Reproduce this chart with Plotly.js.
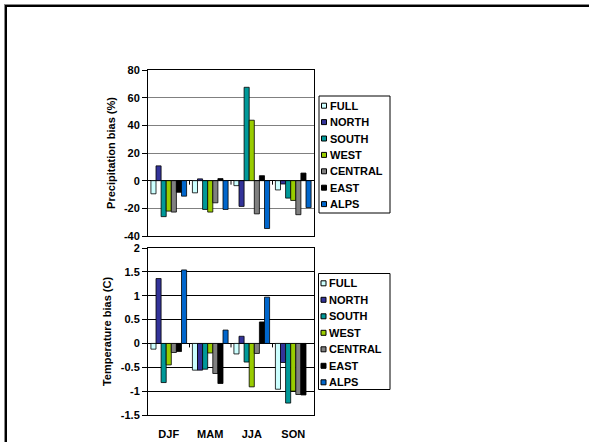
<!DOCTYPE html>
<html>
<head>
<meta charset="utf-8">
<script src="https://cdn.plot.ly/plotly-3.0.1.min.js"></script>
<style>
html,body{margin:0;padding:0;background:#fff;}
#chart{position:absolute;left:0;top:0;width:589px;height:442px;}
#frame{position:absolute;left:4px;top:4px;width:600px;height:460px;border-left:1px solid #888;border-top:1px solid #888;pointer-events:none;}
#frame2{position:absolute;left:5px;top:5px;width:600px;height:460px;border-left:2px solid #000;border-top:2px solid #000;pointer-events:none;}
</style>
</head>
<body>
<div id="chart"></div>
<div id="frame"></div>
<div id="frame2"></div>
<script>
const seasons = ['DJF', 'MAM', 'JJA', 'SON'];
const regions = ['FULL', 'NORTH', 'SOUTH', 'WEST', 'CENTRAL', 'EAST', 'ALPS'];
const regionColors = ['#CCFFFF', '#333399', '#009999', '#99CC00', '#808080', '#000000', '#0066CC'];

// Precipitation bias (%) per region, by season
const precipFULL    = [-9.5, -8.8, -3.6, -6.7];
const precipNORTH   = [10.7, 1.3, -18.6, -2.4];
const precipSOUTH   = [-26.0, -20.8, 67.5, -12.6];
const precipWEST    = [-22.0, -22.7, 43.7, -14.3];
const precipCENTRAL = [-22.7, -16.0, -24.0, -24.6];
const precipEAST    = [-8.4, 1.5, 3.6, 5.5];
const precipALPS    = [-11.2, -20.8, -34.6, -19.5];

// Temperature bias (C) per region, by season
const tempFULL    = [-0.12, -0.56, -0.22, -0.96];
const tempNORTH   = [1.36, -0.56, 0.15, -0.40];
const tempSOUTH   = [-0.82, -0.54, -0.39, -1.25];
const tempWEST    = [-0.45, -0.20, -0.91, -1.00];
const tempCENTRAL = [-0.19, -0.63, -0.21, -1.07];
const tempEAST    = [-0.17, -0.84, 0.45, -1.08];
const tempALPS    = [1.54, 0.28, 0.97, null];

const precipTickVals = [-40, -20, 0, 20, 40, 60, 80];
const precipTickText = ['-40', '-20', '0', '20', '40', '60', '80'];
const tempTickVals = [-1.5, -1, -0.5, 0, 0.5, 1, 1.5, 2];
const tempTickText = ['-1.5', '-1', '-0.5', '0', '0.5', '1', '1.5', '2'];

const precipSeries = [precipFULL, precipNORTH, precipSOUTH, precipWEST, precipCENTRAL, precipEAST, precipALPS];
const tempSeries = [tempFULL, tempNORTH, tempSOUTH, tempWEST, tempCENTRAL, tempEAST, tempALPS];

const W = 589, H = 442;
const FONT = 'Liberation Sans, Arial, sans-serif';

const traces = [];
regions.forEach((r, i) => {
  traces.push({
    type: 'bar', name: r, x: seasons, y: precipSeries[i],
    xaxis: 'x', yaxis: 'y', showlegend: false,
    marker: {color: regionColors[i], line: {color: '#000', width: 0.8}}
  });
  traces.push({
    type: 'bar', name: r, x: seasons, y: tempSeries[i],
    xaxis: 'x2', yaxis: 'y2', showlegend: false,
    marker: {color: regionColors[i], line: {color: '#000', width: 0.8}}
  });
});

const xDom = [148 / W, 314 / W];
const yDomTop = [(H - 236) / H, (H - 70) / H];
const yDomBot = [(H - 415) / H, (H - 248) / H];

const tickFont = {family: FONT, size: 11, color: '#000', weight: 'bold'};

function yAxis(dom, range, vals, text, title, grid, anchor) {
  return {
    domain: dom, range: range, tickvals: vals, ticktext: text, anchor: anchor,
    showgrid: true, gridcolor: grid, gridwidth: 1,
    zeroline: true, zerolinecolor: '#000', zerolinewidth: 1,
    showline: true, linecolor: '#000', linewidth: 1, mirror: true,
    ticks: 'outside', ticklen: 5, tickcolor: '#000', tickwidth: 1,
    tickfont: tickFont, fixedrange: true,
    title: {text: title, font: {family: FONT, size: 11, color: '#000', weight: 'bold'}, standoff: 6}
  };
}

const shapes = [];
const annotations = [];

// small tick marks at category boundaries on the zero line
[0.5, 1.5, 2.5].forEach(b => {
  ['y', 'y2'].forEach((ya, k) => {
    shapes.push({type: 'line', xref: k ? 'x2' : 'x', yref: ya, ysizemode: 'pixel', yanchor: 0,
      x0: b, x1: b, y0: 0, y1: -4, line: {color: '#000', width: 1}});
  });
});

// legends
function addLegend(left, top, right, bottom, firstY, step) {
  shapes.push({type: 'rect', xref: 'paper', yref: 'paper',
    x0: left / W, x1: right / W, y0: 1 - top / H, y1: 1 - bottom / H,
    line: {color: '#000', width: 1}, fillcolor: 'rgba(0,0,0,0)'});
  regions.forEach((r, i) => {
    const cy = firstY + i * step;
    shapes.push({type: 'rect', xref: 'paper', yref: 'paper',
      x0: (left + 2.5) / W, x1: (left + 7.5) / W, y0: 1 - (cy - 2.5) / H, y1: 1 - (cy + 2.5) / H,
      line: {color: '#000', width: 1}, fillcolor: regionColors[i]});
    annotations.push({xref: 'paper', yref: 'paper', x: (left + 8.5) / W, y: 1 - cy / H,
      xanchor: 'left', yanchor: 'middle', showarrow: false, text: r,
      font: {family: FONT, size: 11, color: '#000', weight: 'bold'}});
  });
}
addLegend(319, 96, 390, 213, 105.7, 16.4);
addLegend(318.5, 273.5, 390, 389.5, 283.3, 16.5);

const layout = {
  width: W, height: H,
  margin: {l: 0, r: 0, t: 0, b: 0},
  paper_bgcolor: '#fff', plot_bgcolor: '#fff',
  barmode: 'group', bargap: 0.14, bargroupgap: 0,
  showlegend: false,
  xaxis: {domain: xDom, anchor: 'y', type: 'category', showticklabels: false, ticks: '',
    showline: true, linecolor: '#000', linewidth: 1, mirror: true, showgrid: false, fixedrange: true},
  xaxis2: {domain: xDom, anchor: 'y2', type: 'category', ticks: '', tickfont: tickFont, ticklabelstandoff: 9,
    showline: true, linecolor: '#000', linewidth: 1, mirror: true, showgrid: false, fixedrange: true},
  yaxis: yAxis(yDomTop, [-40, 80], precipTickVals, precipTickText, 'Precipitation bias (%)', '#808080', 'x'),
  yaxis2: yAxis(yDomBot, [-1.5, 2], tempTickVals, tempTickText, 'Temperature bias (C)', '#000', 'x2'),
  shapes: shapes,
  annotations: annotations
};

Plotly.newPlot('chart', traces, layout, {staticPlot: true, displayModeBar: false});
</script>
</body>
</html>
